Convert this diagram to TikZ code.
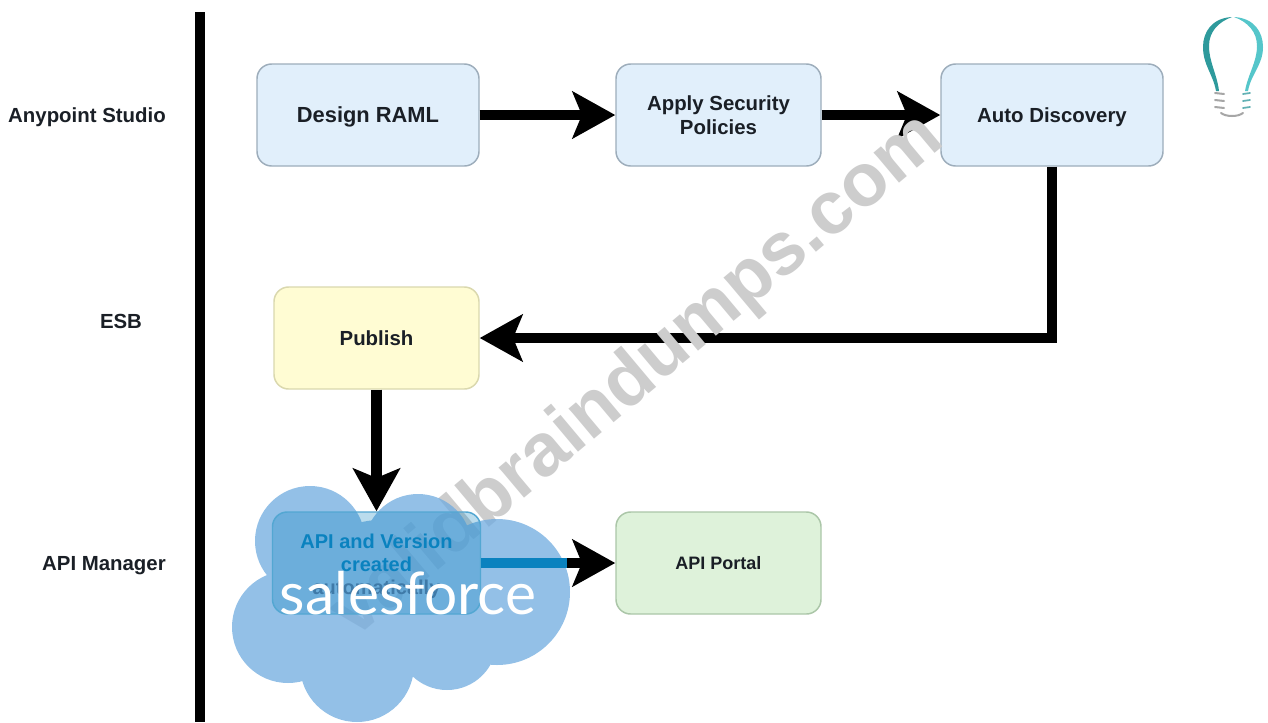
\documentclass[tikz,border=0pt]{standalone}
\usepackage{fontspec}
\setmainfont{Liberation Sans}
\newfontfamily\logofont{Lato}
\usetikzlibrary{arrows.meta}
\definecolor{inkc}{HTML}{1A1F26}
\definecolor{bluefill}{HTML}{E1EFFB}
\definecolor{blueline}{HTML}{9DADBB}
\definecolor{yellowfill}{HTML}{FFFCD3}
\definecolor{yellowline}{HTML}{DAD8AE}
\definecolor{greenfill}{HTML}{DEF2DA}
\definecolor{greenline}{HTML}{ABC6A8}
\definecolor{cloudc}{RGB}{111,171,224}
\definecolor{overblue}{HTML}{0A82BF}
\definecolor{hiddenink}{HTML}{3F7AA8}
\definecolor{markc}{HTML}{CDCDCD}
\definecolor{tealA}{HTML}{2E9A9C}
\definecolor{tealB}{HTML}{55C6CA}
\tikzset{
  x=0.75pt,y=-0.75pt,
  flowbox/.style={draw,line width=1.1pt,rounded corners=11pt,minimum height=76.5pt,inner sep=0pt,align=center,text=inkc,
    font=\fontsize{15.3}{18}\selectfont\bfseries},
  lanelabel/.style={anchor=east,inner sep=0pt,text=inkc,text depth=0pt,font=\fontsize{15.3}{18}\selectfont\bfseries},
  flowarrow/.style={line width=8pt,draw=black,-{Stealth[length=32pt,width=35pt,inset=7pt]}},
}
\begin{document}
\begin{tikzpicture}
\useasboundingbox (0,0) rectangle (1268,722);
\fill[white] (0,0) rectangle (1268,722);
% lane rule
\coordinate (ruletop) at (200,12);
\coordinate (rulebot) at (200,722);
\draw[line width=7.5pt,black] (ruletop) -- (rulebot);
% lane labels
\node[lanelabel] (lanea) at (166,115) {Anypoint Studio};
\node[lanelabel,anchor=center] (laneb) at (121,321) {ESB};
\node[lanelabel] (lanec) at (166,563) {API Manager};
% boxes
\node[flowbox,fill=bluefill,draw=blueline,minimum width=166.5pt,text depth=0pt,font=\fontsize{16.4}{18}\selectfont\bfseries] (design) at (368,115) {Design RAML};
\node[flowbox,fill=bluefill,draw=blueline,minimum width=153.75pt] (apply) at (718.5,115) {Apply Security\\Policies};
\node[flowbox,fill=bluefill,draw=blueline,minimum width=166.5pt,text depth=0pt] (auto) at (1052,115) {Auto Discovery};
\node[flowbox,fill=yellowfill,draw=yellowline,minimum width=153.75pt] (publish) at (376.5,338) {Publish};
\node[flowbox,fill=greenfill,draw=greenline,minimum width=153.75pt,font=\fontsize{13.5}{18}\selectfont\bfseries] (portal) at (718.5,563) {API Portal};
% connectors below the watermark
\draw[flowarrow] (design) -- (apply);
\draw[flowarrow] (apply) -- (auto);
\draw[flowarrow] (auto.south) |- (publish.east);
% watermark
\node[rotate=40,text=markc,inner sep=0pt,font=\fontsize{56}{60}\selectfont\bfseries] (mark) at (638,377) {validbraindumps.com};
% cloud
\fill[cloudc,opacity=0.75]
  (310,541) circle[radius=41.25pt]
  (418,548) circle[radius=40.5pt]
  (497,592) circle[radius=54.75pt]
  (288,627) circle[radius=42pt]
  (357,665) circle[radius=42.75pt]
  (447,640) circle[radius=37.5pt]
  (380,600) circle[radius=60pt];
% box seen through the cloud
\node[flowbox,draw=overblue!70,fill=overblue,fill opacity=0.28,text opacity=1,text=overblue,minimum width=156pt,font=\fontsize{15}{17.3}\selectfont\bfseries] (apibox) at (376.5,563) {\rule{0pt}{15.5pt}API and Version\\created\\\textcolor{hiddenink}{automatically}};
% connectors over the cloud
\coordinate (bluend) at (567,563);
\draw[flowarrow] (apibox.east) -- (portal.west);
\draw[line width=8pt,overblue] (apibox.east) -- (bluend);
\draw[flowarrow] (publish.south) -- (apibox.north);
% logo word
\node[text=white,inner sep=0pt,font=\logofont\fontsize{44}{46}\selectfont] (logo) at (408,593) {salesforce};
% bulb
\fill[tealA] (1232,17) .. controls (1212,18) and (1203,32) .. (1203,47) .. controls (1203,65) and (1213,74) .. (1216,91)
  -- (1219,91) .. controls (1217,74) and (1209,62) .. (1209,46) .. controls (1209,32) and (1218,22) .. (1232,17) -- cycle;
\fill[tealB] (1234,17) .. controls (1254,18) and (1263,32) .. (1263,47) .. controls (1263,65) and (1251,74) .. (1248,91)
  -- (1245,91) .. controls (1248,74) and (1257,62) .. (1257,46) .. controls (1257,32) and (1248,22) .. (1234,17) -- cycle;
\foreach \yy in {93,100,107}{
  \draw[gray!70,line width=1.5pt,line cap=round] (1215,\yy) -- (1224,\yy+1);
  \draw[tealB!70!gray,line width=1.3pt,line cap=round] (1243,\yy+1) -- (1250,\yy);
}
\draw[gray!70,line width=1.5pt,line cap=round] (1221,113) .. controls (1226,117) and (1238,117) .. (1243,113);
\end{tikzpicture}
\end{document}
